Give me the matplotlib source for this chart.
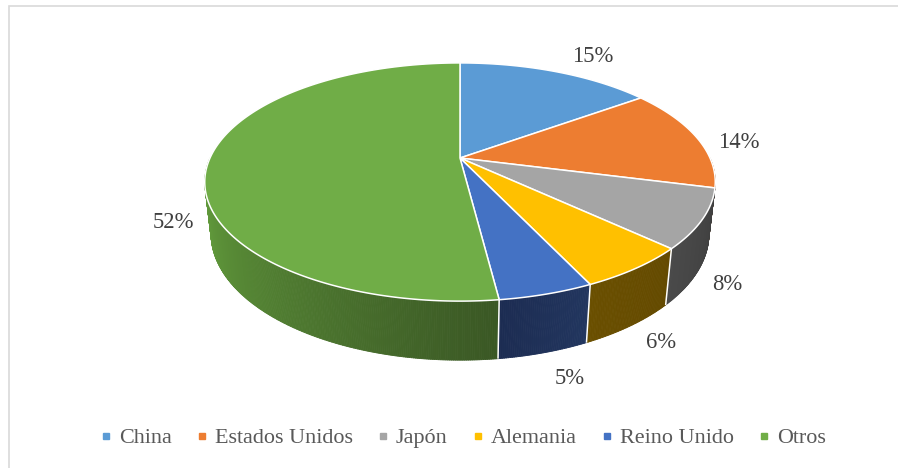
import numpy as np
import matplotlib
matplotlib.use('Agg')
import matplotlib.pyplot as plt
from matplotlib.patches import Polygon, Rectangle
from matplotlib.collections import PolyCollection
from matplotlib.lines import Line2D
from matplotlib.colors import to_rgb

# ---------------- data ----------------
categories = ['China', 'Estados Unidos', 'Japón', 'Alemania', 'Reino Unido', 'Otros']
values = [15, 14, 8, 6, 5, 52]
labels = ['15%', '14%', '8%', '6%', '5%', '52%']

# ---------------- style ----------------
top_colors = ['#5B9BD5', '#ED7D31', '#A5A5A5', '#FFC000', '#4472C4', '#70AD47']
side_left = ['#2f557a', '#8a4614', '#4a4a4a', '#6a4f00', '#1c2c52', '#629c3c']
side_right = ['#2a4d70', '#7c3f12', '#3f3f3f', '#644a00', '#22365f', '#3a5724']
label_nudge = [(28, -8), (19, 7), (5, 4), (10, 3), (15, 8), (-15, 5)]
FONT = 'Liberation Serif'

W, H = 898, 468
fig = plt.figure(figsize=(W / 100, H / 100), dpi=100)
ax = fig.add_axes([0, 0, 1, 1])
ax.set_xlim(0, W)
ax.set_ylim(H, 0)
ax.axis('off')

# perspective camera for the 3D pie
CX, CY = 460.0, 158.0
PHI = np.arcsin(0.457)
D0 = 4.41
F = 1102.5
T = 0.234


def proj(X, Y, Z):
    depth = D0 + Y * np.cos(PHI) - Z * np.sin(PHI)
    up = Y * np.sin(PHI) + Z * np.cos(PHI)
    return CX + F * X / depth, CY - F * up / depth


def rim(theta_deg, z, r=1.0):
    t = np.radians(theta_deg)
    return proj(r * np.cos(t), r * np.sin(t), z)


vals = np.array(values, dtype=float)
frac = vals / vals.sum()
cum = np.concatenate([[0], np.cumsum(frac)])
starts = 90 - 360 * cum[:-1]
ends = 90 - 360 * cum[1:]

alpha = np.degrees(np.arcsin(1.0 / (D0 * np.cos(PHI))))
VIS_LO, VIS_HI = -180 + alpha, -alpha

# ---- side strips ----
strips = []
for i in range(len(values)):
    lo = max(ends[i], -180.0)
    hi = min(starts[i], 0.0)
    if hi <= lo:
        continue
    vlo, vhi = max(lo, VIS_LO), min(hi, VIS_HI)
    n = int(np.ceil((hi - lo) / 0.4))
    th = np.linspace(hi, lo, n + 1)
    cl = np.array(to_rgb(side_left[i]))
    cr = np.array(to_rgb(side_right[i]))
    for j in range(n):
        a, b = th[j], th[j + 1]
        m = 0.5 * (a + b)
        if vhi > vlo:
            s = np.clip((m - vlo) / (vhi - vlo), 0, 1)
        else:
            s = 0.5
        col = cl * (1 - s) + cr * s
        p1 = rim(a, 0)
        p2 = rim(b, 0)
        p3 = rim(b, -T)
        p4 = rim(a, -T)
        strips.append((np.sin(np.radians(m)), [p1, p2, p3, p4], col))

strips.sort(key=lambda s: -s[0])
pc = PolyCollection([s[1] for s in strips], facecolors=[s[2] for s in strips],
                    edgecolors=[s[2] for s in strips], linewidths=0.6)
ax.add_collection(pc)

# white separators on the side
for k in range(1, len(values)):
    b = ends[k - 1]
    if VIS_LO < b < VIS_HI:
        x1, y1 = rim(b, 0)
        x2, y2 = rim(b, -T)
        ax.plot([x1, x2], [y1, y2], color='white', lw=1.1, solid_capstyle='butt')

# ---- top faces ----
for i in range(len(values)):
    th = np.linspace(starts[i], ends[i], max(int(abs(starts[i] - ends[i]) / 0.5), 2) + 1)
    pts = [proj(0, 0, 0)] + [rim(t, 0) for t in th]
    ax.add_patch(Polygon(pts, closed=True, facecolor=top_colors[i], edgecolor='white',
                         lw=1.1, joinstyle='round'))

# ---- data labels ----
for i in range(len(values)):
    m = 0.5 * (starts[i] + ends[i])
    z = 0.0 if np.sin(np.radians(m)) >= 0 else -T
    x, y = rim(m, z, r=1.1)
    ax.text(x + label_nudge[i][0], y + label_nudge[i][1], labels[i], ha='center', va='center',
            fontsize=16.3, family=FONT, color='#404040')

# ---- legend ----
handles = [Line2D([], [], marker='s', linestyle='none', markersize=4.5,
                  markerfacecolor=c, markeredgecolor=c) for c in top_colors]
fig.legend(handles, categories, loc='center', bbox_to_anchor=(463 / W, 1 - 438 / H),
           ncol=6, frameon=False, prop={'family': FONT, 'size': 15.9}, labelcolor='#595959',
           handlelength=0.5, handletextpad=0.35, columnspacing=1.1, borderpad=0,
           borderaxespad=0)

# ---- chart area border ----
fig.patches.append(Rectangle((8.5 / W, -0.05), 1.2, (1 - 6.5 / H) + 0.05,
                             transform=fig.transFigure, fill=False, edgecolor='#d9d9d9',
                             lw=1.2))

fig.savefig('out.png', dpi=100)
